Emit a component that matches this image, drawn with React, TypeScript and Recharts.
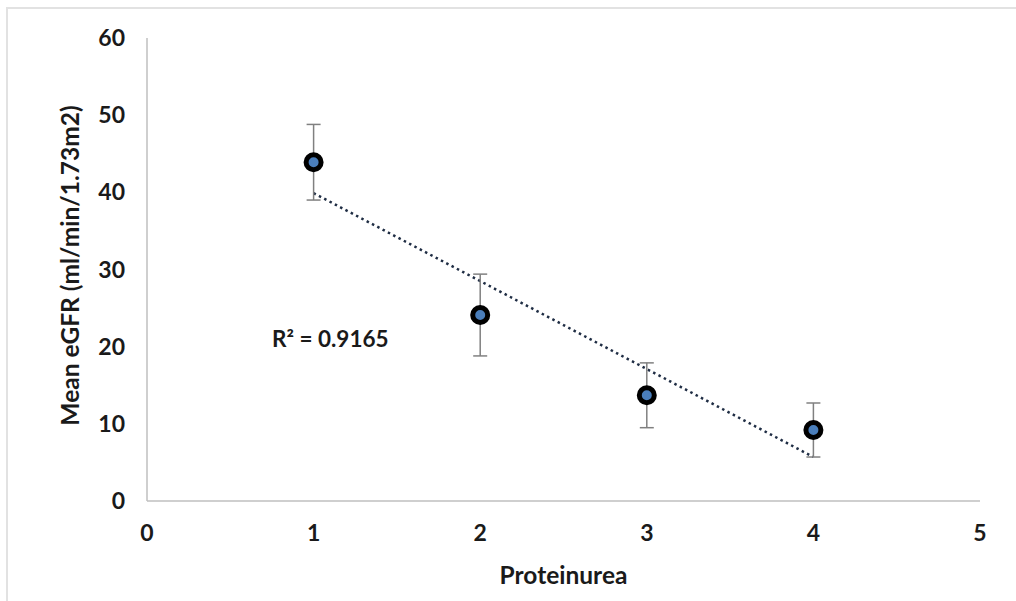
import {
  ScatterChart,
  Scatter,
  XAxis,
  YAxis,
  ErrorBar,
  ReferenceLine,
  ReferenceDot,
} from "recharts";

const proteinurea = [1, 2, 3, 4];
const meanEgfr = [43.9, 24.1, 13.7, 9.2];
const egfrError = [4.9, 5.3, 4.2, 3.5];

const xTicks = [0, 1, 2, 3, 4, 5];
const yTicks = [0, 10, 20, 30, 40, 50, 60];

// linear trendline end points
const trendStart = { x: 1, y: 39.9 };
const trendEnd = { x: 4, y: 5.7 };
const rSquared = "R\u00B2 = 0.9165";

const points = proteinurea.map((x, i) => ({
  x,
  y: meanEgfr[i],
  err: egfrError[i],
}));

const FONT = "Lato, 'Open Sans', sans-serif";
const TEXT = "#1a1a1a";

const Marker = (props: any) => {
  const { cx, cy } = props;
  return (
    <circle cx={cx} cy={cy} r={7.5} fill="#4a7ebb" stroke="#000" strokeWidth={5} />
  );
};

const YTitle = (props: any) => {
  const vb = props.viewBox || { y: 29, height: 463 };
  const cx = 71;
  const cy = vb.y + vb.height / 2 - 4;
  return (
    <text
      x={cx}
      y={cy}
      transform={`rotate(-90, ${cx}, ${cy})`}
      textAnchor="middle"
      fontFamily={FONT}
      fontWeight={700}
      fontSize={24.5}
      fill={TEXT}
    >
      Mean eGFR (ml/min/1.73m2)
    </text>
  );
};

const RLabel = (props: any) => {
  const vb = props.viewBox || { x: 0, y: 0 };
  return (
    <text
      x={vb.x}
      y={vb.y}
      textAnchor="middle"
      fontFamily={FONT}
      fontWeight={700}
      fontSize={22.5}
      fill={TEXT}
    >
      {rSquared}
    </text>
  );
};

const App = () => {
  return (
    <div
      style={{
        position: "absolute",
        left: 6,
        top: 7,
        width: 1014,
        height: 600,
        borderTop: "2px solid #e2e2e2",
        borderLeft: "2px solid #e2e2e2",
        background: "#fff",
      }}
    >
      <ScatterChart
        width={1008}
        height={592}
        margin={{ top: 29, right: 36, left: 0, bottom: 0 }}
      >
        <XAxis
          type="number"
          dataKey="x"
          domain={[0, 5]}
          ticks={xTicks}
          height={100}
          tickSize={0}
          tickMargin={24}
          tickLine={false}
          axisLine={{ stroke: "#bfbfbf", strokeWidth: 1.5 }}
          tick={{ fill: TEXT, fontFamily: FONT, fontWeight: 700, fontSize: 23 }}
          label={{
            value: "Proteinurea",
            position: "insideBottom",
            offset: 17,
            fill: TEXT,
            fontFamily: FONT,
            fontWeight: 700,
            fontSize: 24.5,
          }}
        />
        <YAxis
          type="number"
          dataKey="y"
          domain={[0, 60]}
          ticks={yTicks}
          width={139}
          tickSize={0}
          tickMargin={22}
          tickLine={false}
          axisLine={{ stroke: "#bfbfbf", strokeWidth: 1.5 }}
          tick={{ fill: TEXT, fontFamily: FONT, fontWeight: 700, fontSize: 23 }}
          label={<YTitle />}
        />
        <ReferenceLine
          segment={[trendStart, trendEnd]}
          stroke="#1f2d44"
          strokeWidth={2.5}
          strokeDasharray="2.5 3.5"
        />
        <Scatter
          data={points}
          shape={<Marker />}
          isAnimationActive={false}
        >
          <ErrorBar
            dataKey="err"
            direction="y"
            width={7}
            stroke="#808080"
            strokeWidth={1.5}
          />
        </Scatter>
        <ReferenceDot x={1.1} y={20} r={0} label={<RLabel />} />
      </ScatterChart>
    </div>
  );
};

export default App;
